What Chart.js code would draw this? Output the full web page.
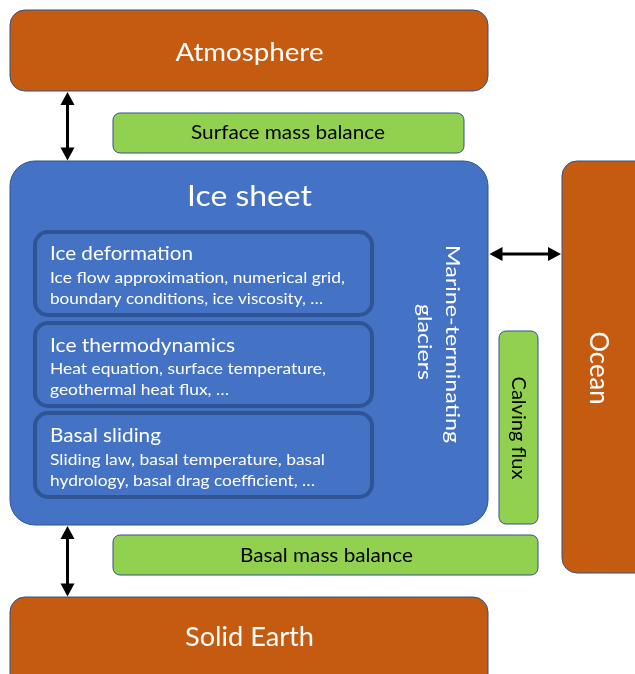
<!DOCTYPE html>
<html>
<head>
<meta charset="utf-8">
<script src="https://cdn.jsdelivr.net/npm/chart.js@4.4.1/dist/chart.umd.min.js"></script>
<style>
  html, body { margin: 0; padding: 0; background: #ffffff; }
  #wrap { width: 635px; height: 674px; position: relative; }
</style>
</head>
<body>
<div id="wrap"><canvas id="c"></canvas></div>
<script>
// ---- content (data) ----
const boxNames = ['Atmosphere', 'Surface mass balance', 'Ice sheet', 'Ice deformation',
  'Ice thermodynamics', 'Basal sliding', 'Calving flux', 'Ocean', 'Basal mass balance', 'Solid Earth'];
const componentDetails = [
  ['Ice flow approximation, numerical grid,', 'boundary conditions, ice viscosity, \u2026'],
  ['Heat equation, surface temperature,', 'geothermal heat flux, \u2026'],
  ['Sliding law, basal temperature, basal', 'hydrology, basal drag coefficient, \u2026']
];
const sideLabel = ['Marine-terminating', 'glaciers'];
const couplings = [['Atmosphere', 'Ice sheet'], ['Ice sheet', 'Solid Earth'], ['Ice sheet', 'Ocean']];

// ---- layout (diagram units: 0..635 across, 0..674 down) ----
const boxLayout = {
  'Atmosphere':           { x0: 10,  y0: 10,  x1: 488, y1: 91,  r: 15, kind: 'earth' },
  'Surface mass balance': { x0: 113, y0: 113, x1: 464, y1: 153, r: 7,  kind: 'flux' },
  'Ice sheet':            { x0: 10,  y0: 161, x1: 488, y1: 525, r: 25, kind: 'ice' },
  'Ice deformation':      { x0: 35,  y0: 232, x1: 372, y1: 315, r: 13, kind: 'inner' },
  'Ice thermodynamics':   { x0: 35,  y0: 323, x1: 372, y1: 406, r: 13, kind: 'inner' },
  'Basal sliding':        { x0: 35,  y0: 413, x1: 372, y1: 497, r: 13, kind: 'inner' },
  'Calving flux':         { x0: 499, y0: 331, x1: 538, y1: 524, r: 7,  kind: 'flux' },
  'Ocean':                { x0: 562, y0: 161, x1: 660, y1: 573, r: 15, kind: 'earth' },
  'Basal mass balance':   { x0: 113, y0: 535, x1: 538, y1: 575, r: 7,  kind: 'flux' },
  'Solid Earth':          { x0: 10,  y0: 597, x1: 488, y1: 700, r: 15, kind: 'earth' }
};
const styles = {
  earth: { fill: '#C55A11', stroke: '#2F528F', lw: 1 },
  flux:  { fill: '#92D050', stroke: '#2F528F', lw: 1 },
  ice:   { fill: '#4472C4', stroke: '#2F528F', lw: 1 },
  inner: { fill: '#4472C4', stroke: '#2F5597', lw: 4 }
};
// text placement: [x, baseline y, size, width, align, rotated, colour]
const labelLayout = {
  'Atmosphere':           [249.5, 61,    25.5, 148, 'center', false, '#ffffff'],
  'Surface mass balance': [288,   139.3, 19,   194, 'center', false, '#000000'],
  'Ice sheet':            [249.5, 205.7, 29.5, 125, 'center', false, '#ffffff'],
  'Ice deformation':      [50,    260.3, 19,   143, 'left',   false, '#ffffff'],
  'Ice thermodynamics':   [50,    351.5, 19,   185, 'left',   false, '#ffffff'],
  'Basal sliding':        [50,    442.3, 19,   111, 'left',   false, '#ffffff'],
  'Calving flux':         [511.5, 428,   19.5, 103, 'center', true,  '#000000'],
  'Ocean':                [590,   368,   27.5, 73,  'center', true,  '#ffffff'],
  'Basal mass balance':   [326.5, 561.7, 19,   173, 'center', false, '#000000'],
  'Solid Earth':          [249.5, 646,   27.5, 129, 'center', false, '#ffffff']
};
const detailLayout = [
  [[50, 283.3, 16, 295], [50, 304.3, 16, 273]],
  [[50, 374,   16, 276], [50, 395,   16, 179]],
  [[50, 465,   16, 275], [50, 486,   16, 265]]
];
const sideLayout = [[446, 344, 20, 198], [417.5, 342, 20, 76]];
const arrowLayout = [
  { x0: 67.5, y0: 92,  x1: 67.5, y1: 160.5 },
  { x0: 67.5, y0: 526, x1: 67.5, y1: 596.5 },
  { x0: 489.5, y0: 254, x1: 561, y1: 254 }
];

const FONT = 'Lato, "Open Sans", sans-serif';

function roundRect(ctx, x, y, w, h, r) {
  ctx.beginPath();
  ctx.moveTo(x + r, y);
  ctx.lineTo(x + w - r, y);
  ctx.arcTo(x + w, y, x + w, y + r, r);
  ctx.lineTo(x + w, y + h - r);
  ctx.arcTo(x + w, y + h, x + w - r, y + h, r);
  ctx.lineTo(x + r, y + h);
  ctx.arcTo(x, y + h, x, y + h - r, r);
  ctx.lineTo(x, y + r);
  ctx.arcTo(x, y, x + r, y, r);
  ctx.closePath();
}

const diagramPlugin = {
  id: 'diagram',
  afterDatasetsDraw(chart) {
    const ctx = chart.ctx;
    const sx = chart.scales.x, sy = chart.scales.y;
    const px = v => sx.getPixelForValue(v);
    const py = v => sy.getPixelForValue(v);

    function text(str, x, y, size, width, align, rot, color) {
      ctx.save();
      ctx.translate(px(x), py(y));
      if (rot) ctx.rotate(Math.PI / 2);
      ctx.font = size + 'px ' + FONT;
      ctx.fillStyle = color;
      ctx.textBaseline = 'alphabetic';
      ctx.textAlign = align;
      const w = ctx.measureText(str).width;
      const k = (px(width) - px(0)) / w;
      ctx.scale(k, 1);
      ctx.fillText(str, 0, 0);
      ctx.restore();
    }

    // boxes
    boxNames.forEach(name => {
      const b = boxLayout[name];
      const st = styles[b.kind];
      const x = px(b.x0), y = py(b.y0), w = px(b.x1) - x, h = py(b.y1) - y;
      ctx.save();
      roundRect(ctx, x, y, w, h, b.r);
      ctx.fillStyle = st.fill;
      ctx.fill();
      ctx.lineWidth = st.lw;
      ctx.strokeStyle = st.stroke;
      ctx.stroke();
      ctx.restore();
    });

    // labels
    boxNames.forEach(name => {
      const L = labelLayout[name];
      text(name, L[0], L[1], L[2], L[3], L[4], L[5], L[6]);
    });
    componentDetails.forEach((lines, i) => {
      lines.forEach((ln, j) => {
        const L = detailLayout[i][j];
        text(ln, L[0], L[1], L[2], L[3], 'left', false, '#ffffff');
      });
    });
    sideLabel.forEach((ln, i) => {
      const L = sideLayout[i];
      text(ln, L[0], L[1], L[2], L[3], 'center', true, '#ffffff');
    });

    // coupling arrows (double headed)
    couplings.forEach((c, i) => {
      const a = arrowLayout[i];
      const x0 = px(a.x0), y0 = py(a.y0), x1 = px(a.x1), y1 = py(a.y1);
      const ang = Math.atan2(y1 - y0, x1 - x0);
      const hl = 13, hw = 7;
      const ux = Math.cos(ang), uy = Math.sin(ang);
      ctx.save();
      ctx.strokeStyle = '#000000';
      ctx.fillStyle = '#000000';
      ctx.lineWidth = 3;
      ctx.beginPath();
      ctx.moveTo(x0 + ux * (hl - 2), y0 + uy * (hl - 2));
      ctx.lineTo(x1 - ux * (hl - 2), y1 - uy * (hl - 2));
      ctx.stroke();
      [[x0, y0, 1], [x1, y1, -1]].forEach(([tx, ty, d]) => {
        const bx = tx + ux * hl * d, by = ty + uy * hl * d;
        ctx.beginPath();
        ctx.moveTo(tx, ty);
        ctx.lineTo(bx - uy * hw, by + ux * hw);
        ctx.lineTo(bx + uy * hw, by - ux * hw);
        ctx.closePath();
        ctx.fill();
      });
      ctx.restore();
    });
  }
};

new Chart(document.getElementById('c'), {
  type: 'scatter',
  data: { datasets: [{ data: [], pointRadius: 0 }] },
  options: {
    responsive: true,
    maintainAspectRatio: false,
    animation: false,
    layout: { padding: 0 },
    plugins: { legend: { display: false }, tooltip: { enabled: false } },
    scales: {
      x: { type: 'linear', min: 0, max: 635, display: false },
      y: { type: 'linear', min: 0, max: 674, reverse: true, display: false }
    }
  },
  plugins: [diagramPlugin]
});
</script>
</body>
</html>
